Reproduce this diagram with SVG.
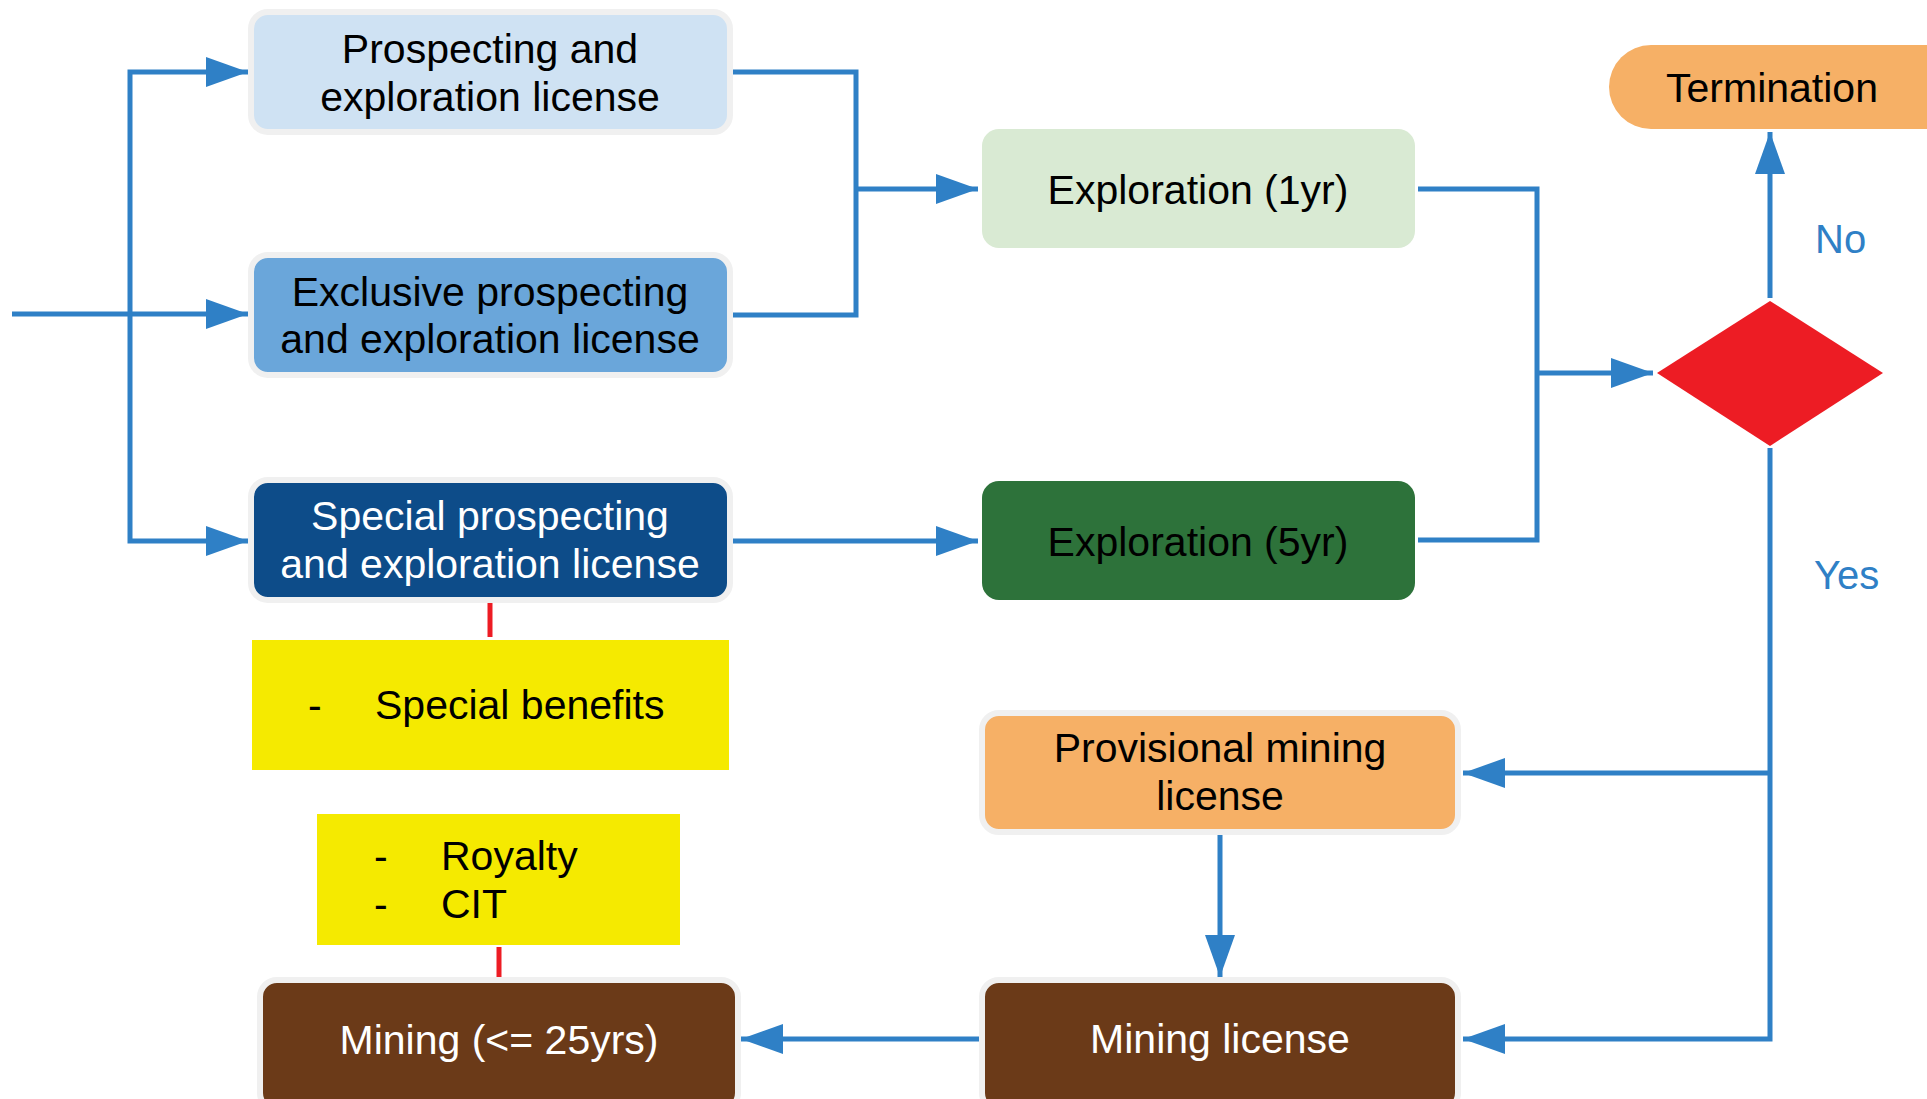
<svg xmlns="http://www.w3.org/2000/svg" width="1927" height="1099" viewBox="0 0 1927 1099">
<style>
.t{font-family:"Liberation Sans",Arial,sans-serif;font-size:41px;text-anchor:middle;fill:#000}
.w{fill:#fff}
.halo{stroke:#f0f0f0;stroke-width:6}
.c{fill:none;stroke:#2f80c6;stroke-width:5}
.r{fill:none;stroke:#ed1c24;stroke-width:5}
.lbl{font-family:"Liberation Sans",Arial,sans-serif;font-size:40px;fill:#2f80c6}
.y{fill:#f5ea00}
.l{font-family:"Liberation Sans",Arial,sans-serif;font-size:41px;fill:#000}
</style>
<defs>
<marker id="a" markerUnits="userSpaceOnUse" markerWidth="42" markerHeight="30" refX="42" refY="15" orient="auto">
<path d="M0,0 L42,15 L0,30 z" fill="#2f80c6"/>
</marker>
</defs>
<rect width="1927" height="1099" fill="#fff"/>
<g id="connectors">
<path class="c" d="M12,314 H248" marker-end="url(#a)"/>
<path class="c" d="M130,314 V72 H248" marker-end="url(#a)"/>
<path class="c" d="M130,314 V541 H248" marker-end="url(#a)"/>
<path class="c" d="M730,72 H856 V315 H730"/>
<path class="c" d="M856,189 H978" marker-end="url(#a)"/>
<path class="c" d="M730,541 H978" marker-end="url(#a)"/>
<path class="c" d="M1418,189 H1537 V540 H1418"/>
<path class="c" d="M1537,373 H1653" marker-end="url(#a)"/>
<path class="c" d="M1770,298 V132" marker-end="url(#a)"/>
<path class="c" d="M1770,448 V1039 H1463" marker-end="url(#a)"/>
<path class="c" d="M1770,773 H1463" marker-end="url(#a)"/>
<path class="c" d="M1220,834 V977" marker-end="url(#a)"/>
<path class="c" d="M982,1039 H741" marker-end="url(#a)"/>
<path class="r" d="M490,602 V637"/>
<path class="r" d="M499,947 V977"/>
</g>
<g id="prospecting">
<rect class="halo" x="251" y="12" width="479" height="120" rx="17" fill="#cfe2f3"/>
<text class="t" x="490" y="63">Prospecting and</text>
<text class="t" x="490" y="111">exploration license</text>
</g>
<g id="exclusive">
<rect class="halo" x="251" y="255" width="479" height="120" rx="17" fill="#6aa6da"/>
<text class="t" x="490" y="306">Exclusive prospecting</text>
<text class="t" x="490" y="353">and exploration license</text>
</g>
<g id="special">
<rect class="halo" x="251" y="480" width="479" height="120" rx="17" fill="#0d4c89"/>
<text class="t w" x="490" y="530">Special prospecting</text>
<text class="t w" x="490" y="578">and exploration license</text>
</g>
<g id="exploration1">
<rect x="982" y="129" width="433" height="119" rx="17" fill="#d9ead3"/>
<text class="t" x="1198" y="204">Exploration (1yr)</text>
</g>
<g id="exploration5">
<rect x="982" y="481" width="433" height="119" rx="17" fill="#2d723a"/>
<text class="t" x="1198" y="556">Exploration (5yr)</text>
</g>
<g id="decision">
<polygon points="1657,373 1770,301 1883,373 1770,446" fill="#ed1c24"/>
</g>
<g id="termination">
<rect x="1609" y="45" width="360" height="84" rx="42" fill="#f6b066"/>
<text class="t" x="1772" y="102">Termination</text>
</g>
<text class="lbl" x="1815" y="253">No</text>
<text class="lbl" x="1814" y="589">Yes</text>
<g id="provisional">
<rect class="halo" x="982" y="713" width="476" height="119" rx="17" fill="#f6b066"/>
<text class="t" x="1220" y="762">Provisional mining</text>
<text class="t" x="1220" y="810">license</text>
</g>
<g id="mininglicense">
<rect class="halo" x="982" y="980" width="476" height="130" rx="17" fill="#6b3a18"/>
<text class="t w" x="1220" y="1053">Mining license</text>
</g>
<g id="mining">
<rect class="halo" x="260" y="980" width="478" height="130" rx="17" fill="#6b3a18"/>
<text class="t w" x="499" y="1054">Mining (&lt;= 25yrs)</text>
</g>
<g id="benefits">
<rect class="y" x="252" y="640" width="477" height="130"/>
<text class="l" x="308" y="719">-</text>
<text class="l" x="375" y="719">Special benefits</text>
</g>
<g id="taxes">
<rect class="y" x="317" y="814" width="363" height="131"/>
<text class="l" x="374" y="870">-</text>
<text class="l" x="441" y="870">Royalty</text>
<text class="l" x="374" y="918">-</text>
<text class="l" x="441" y="918">CIT</text>
</g>
</svg>
